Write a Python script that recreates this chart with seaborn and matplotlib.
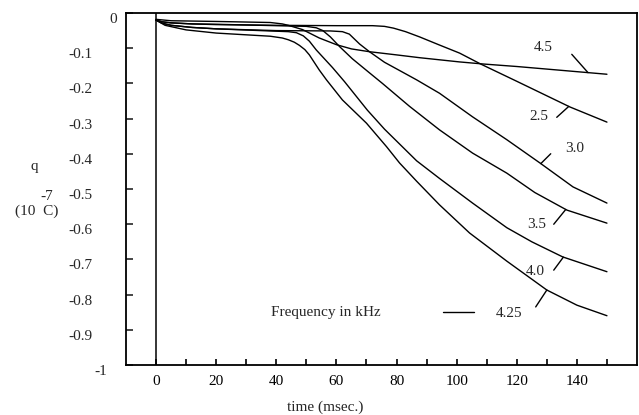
import numpy as np
import pandas as pd
import matplotlib
matplotlib.use("Agg")
import matplotlib.pyplot as plt
import seaborn as sns

# charge q (units of 1e-7 C) vs time (msec), one trace per drive frequency (kHz)
t_25 = [0, 2, 5, 12, 20, 40, 60, 72, 76, 79, 83, 87.7, 94, 101, 108, 120, 137.7, 150]
q_25 = [-0.02, -0.025, -0.028, -0.031, -0.033, -0.035, -0.036, -0.036, -0.038, -0.043, -0.053, -0.068,
        -0.09, -0.114, -0.145, -0.194, -0.267, -0.31]

t_30 = [0, 2, 5, 12, 20, 40, 58, 62, 64.3, 66, 67.7, 71, 76, 82, 86.7, 94.3, 105.3, 116.7, 127.7,
        138.7, 150]
q_30 = [-0.02, -0.029, -0.035, -0.041, -0.045, -0.05, -0.051, -0.053, -0.06, -0.074, -0.088, -0.11,
        -0.14, -0.168, -0.19, -0.228, -0.295, -0.36, -0.426, -0.494, -0.54]

t_35 = [0, 2, 5, 12, 20, 40, 50, 53.3, 55.5, 58, 61, 65.3, 71, 75.3, 84.3, 94.3, 105.3, 116.7, 126,
        136.7, 150]
q_35 = [-0.02, -0.025, -0.028, -0.031, -0.032, -0.036, -0.038, -0.042, -0.05, -0.068, -0.095, -0.13,
        -0.17, -0.2, -0.265, -0.332, -0.398, -0.455, -0.51, -0.56, -0.597]

t_40 = [0, 2, 5, 12, 20, 37.7, 44, 46.7, 49, 51, 53.3, 58.7, 62.7, 70.3, 76, 86.7, 94.3, 105.3, 116.7,
        125, 135.3, 150]
q_40 = [-0.02, -0.029, -0.035, -0.041, -0.045, -0.051, -0.053, -0.056, -0.065, -0.08, -0.105, -0.155,
        -0.195, -0.276, -0.33, -0.42, -0.47, -0.54, -0.61, -0.65, -0.693, -0.735]

t_425 = [0, 3, 10, 20, 30, 38, 42, 44, 46, 47.7, 49.5, 51, 54.3, 56.7, 62, 70, 76.7, 81, 86.7, 94.3,
         104.3, 116.7, 130, 140, 150]
q_425 = [-0.02, -0.035, -0.048, -0.057, -0.062, -0.066, -0.071, -0.076, -0.083, -0.092, -0.104, -0.119,
         -0.162, -0.19, -0.247, -0.313, -0.38, -0.426, -0.478, -0.545, -0.625, -0.705, -0.787, -0.83, -0.86]

t_45 = [0, 5, 20, 38, 42, 44, 48.7, 54.3, 60, 65, 71, 80, 87.7, 101, 109, 120, 135, 150]
q_45 = [-0.018, -0.022, -0.024, -0.027, -0.031, -0.035, -0.047, -0.071, -0.09, -0.102, -0.11, -0.119,
        -0.127, -0.139, -0.145, -0.152, -0.163, -0.174]

freqs = ["2.5", "3.0", "3.5", "4.0", "4.25", "4.5"]
traces = [(t_25, q_25), (t_30, q_30), (t_35, q_35), (t_40, q_40), (t_425, q_425), (t_45, q_45)]

x_ticks = [0, 20, 40, 60, 80, 100, 120, 140]
y_ticks = [-1, -0.9, -0.8, -0.7, -0.6, -0.5, -0.4, -0.3, -0.2, -0.1, 0]
y_tick_labels = ["-1", "-0.9", "-0.8", "-0.7", "-0.6", "-0.5", "-0.4", "-0.3", "-0.2", "-0.1", "0"]

df = pd.concat([pd.DataFrame({"t": t, "q": q, "freq": f}) for f, (t, q) in zip(freqs, traces)],
               ignore_index=True)

sns.set_style("white")
plt.rcParams["font.family"] = ["Liberation Serif", "DejaVu Serif"]
plt.rcParams["axes.unicode_minus"] = False

fig = plt.figure(figsize=(6.39, 4.15), dpi=100)
ax = fig.add_axes([126 / 639, 50 / 415, 511 / 639, 352 / 415])

sns.lineplot(data=df, x="t", y="q", units="freq", estimator=None, sort=False,
             color="black", lw=1.0, ax=ax)
ax.axvline(0, color="black", lw=1.1)

ax.set_xlim(-10, 160); ax.set_ylim(-1, 0)
for s in ax.spines.values():
    s.set_visible(True); s.set_color("black"); s.set_linewidth(1.3)

ax.set_xticks(x_ticks)
ax.set_xticks([t + 10 for t in x_ticks], minor=True)
ax.tick_params(axis="x", which="both", direction="in", length=4, width=1.2, top=False,
               bottom=True, labelsize=11, pad=7, colors="black")
ax.set_yticks(y_ticks)
ax.set_yticklabels([])
ax.tick_params(axis="y", direction="in", length=5, width=1.2, left=True, right=False)

# y tick labels drawn by hand: the original has ragged alignment for "0" and "-1"
ylab_x = {"0": -0.0176, "-1": -0.037}
for v, lab in zip(y_ticks, y_tick_labels):
    ax.text(ylab_x.get(lab, -0.066), v, lab, transform=ax.get_yaxis_transform(),
            ha="right", va="top", fontsize=11)

ax.set_xlabel("time (msec.)", fontsize=11)
ax.xaxis.set_label_coords(0.39, -0.10)
ax.set_ylabel("")
ax.text(-0.18, 0.565, "q", transform=ax.transAxes, ha="center", va="center", fontsize=11)
ax.text(-0.174, 0.4375, "(10  C)", transform=ax.transAxes, ha="center", va="center", fontsize=11)
ax.text(-0.156, 0.478, "-7", transform=ax.transAxes, ha="center", va="center", fontsize=11)

# curve labels with short leader ticks touching the trace
touch_t = {"4.5": 143.7, "2.5": 137.3, "3.0": 128.0, "3.5": 136.3, "4.0": 135.5, "4.25": 130.0}
lead_d = {"4.5": (-5.4, 0.052), "2.5": (-4.0, -0.031), "3.0": (3.3, 0.028),
          "3.5": (-4.0, -0.042), "4.0": (-3.2, -0.037), "4.25": (-3.7, -0.048)}
text_xy = {"4.5": (128.7, -0.099), "2.5": (127.3, -0.295), "3.0": (139.2, -0.385),
           "3.5": (126.7, -0.6), "4.0": (126.3, -0.734), "4.25": (117.5, -0.854)}
for f, (t, q) in zip(freqs, traces):
    t0 = touch_t[f]; q0 = np.interp(t0, t, q)
    dx, dq = lead_d[f]
    ax.plot([t0, t0 + dx], [q0, q0 + dq], color="black", lw=1.0)
    ax.text(*text_xy[f], f, ha="center", va="center", fontsize=11)

ax.plot([95.3, 105.7], [-0.849, -0.849], color="black", lw=1.0)
ax.text(56.5, -0.852, "Frequency in kHz", ha="center", va="center", fontsize=11)

fig.savefig("out.png", dpi=100)
